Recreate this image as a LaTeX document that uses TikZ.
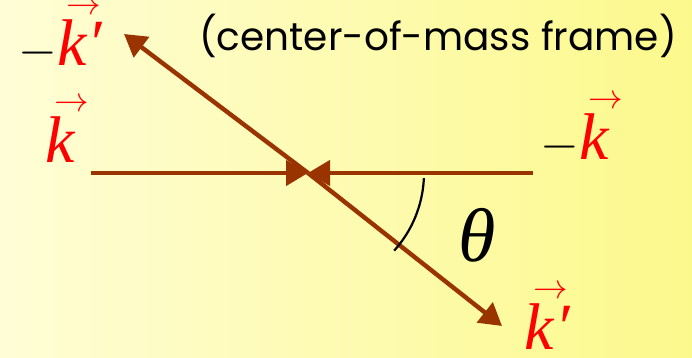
\documentclass[tikz,border=0pt]{standalone}
\usepackage{fontspec}
\setmainfont{Liberation Serif}
\newfontfamily\titlefont{Poppins}
\usetikzlibrary{arrows.meta, calc}
\definecolor{cbrown}{HTML}{993300}
\definecolor{cred}{HTML}{FF0000}
\definecolor{cpale}{HTML}{FFFDD6}
\definecolor{cyell}{HTML}{FCF98C}
\newcommand{\kv}{\ensuremath{\rlap{\kern0.14em\raisebox{0.78em}{$\scriptscriptstyle\rightarrow$}}\textit{k}}}
\newcommand{\kp}{\kv\textit{\kern0.02em\char"2032}}
\tikzset{
  arrow/.style={-{Triangle[length=11pt, width=12.5pt]}, draw=cbrown, line width=2.2pt},
  lbl/.style={font=\fontsize{33}{36}\selectfont, text=cred, inner sep=0pt, anchor=base west},
  title/.style={font=\titlefont\fontsize{19.5}{22}\selectfont, inner sep=0pt},
}

\begin{document}
\begin{tikzpicture}[x=0.5pt, y=0.5pt]
  \fill[left color=cpale, right color=cyell] (0,0) rectangle (692,358);
  \useasboundingbox (0,0) rectangle (692,358);
  \coordinate (O) at (308,185);
  \coordinate (kin) at (91,185);
  \coordinate (kout) at (533,185);
  \coordinate (up) at (124,324);
  \coordinate (down) at (502,32);
  \draw[arrow] (kin) -- (O);
  \draw[arrow] (kout) -- (O);
  \draw[arrow] (O) -- (up);
  \draw[arrow] (O) -- (down);
  \draw[black, line width=1.1pt] ($(O)+(-2.5:116)$) coordinate (a0) arc[start angle=-2.5, end angle=-42, radius=58pt];
  \node[lbl] (lk) at (45,195) {\kv};
  \node[lbl] (rk) at (540,198) {\textcolor{black}{$-$}\kv};
  \node[lbl] (uk) at (18,292) {\textcolor{black}{$-$}\kp};
  \node[lbl] (dk) at (524,8) {\kp};
  \node[lbl, text=black, font=\fontsize{38}{40}\selectfont] (th) at (458,96) {\textit{θ}};
  \node[title] (tt) at (438,322) {(center-of-mass frame)};
\end{tikzpicture}
\end{document}
